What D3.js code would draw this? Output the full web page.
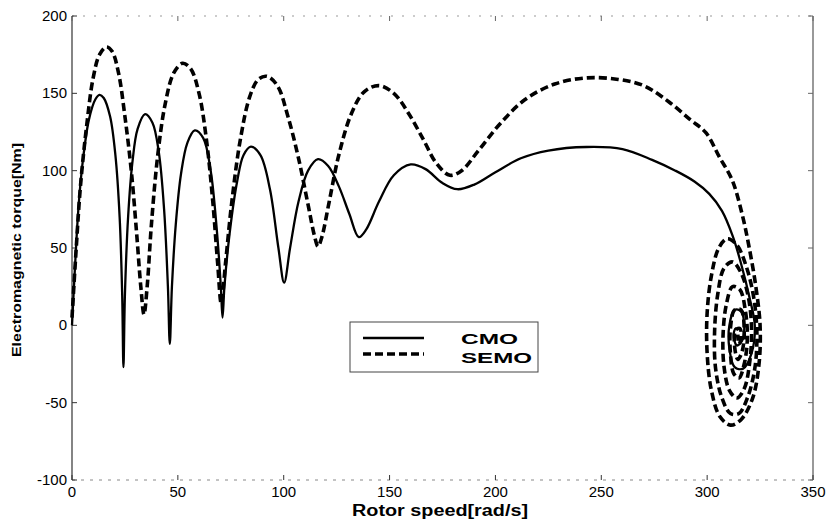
<!DOCTYPE html>
<html>
<head>
<meta charset="utf-8">
<script src="https://cdn.jsdelivr.net/npm/d3@7"></script>
<style>
  body { margin: 0; background: #fff; }
  text { font-family: "Liberation Sans", Arial, sans-serif; }
</style>
</head>
<body>
<svg id="chart" width="828" height="524"></svg>
<script>
/* tick labels */
var xTicks = [0, 50, 100, 150, 200, 250, 300, 350];
var yTicks = [-100, -50, 0, 50, 100, 150, 200];

/* CMO (solid) */
var cmoSpeed = [0, 1.5, 3, 5, 8, 11, 13, 15, 18, 20.5, 22.5, 23.7, 24.3, 25, 26.5, 28.5, 31, 34.5, 38, 41, 43.5, 45.3, 46.2, 47.2, 49, 51.5, 54.5, 58, 62, 65.5, 68.5, 70.3, 71.1, 72, 74.5, 78, 81, 84.5, 89, 93.5, 97.5, 100.2, 103, 107, 111.5, 116.2, 121, 126, 131, 135.5, 139, 145, 152, 160, 167, 175, 182, 190, 200, 212, 225, 243, 260, 274, 285, 294, 301, 307, 312, 316, 320, 322.5, 321, 317, 313, 310.5, 310.5, 313, 316, 317.5, 316.5, 314, 312.5, 313.5, 314.5];
var cmoTorque = [0, 40, 75, 105, 133, 146, 149, 147, 135, 110, 70, 20, -27, 20, 70, 105, 127, 136.5, 131, 112, 75, 25, -12, 25, 65, 98, 118, 126, 121, 100, 60, 25, 5, 25, 60, 93, 110, 115.5, 110, 88, 50, 27.6, 50, 80, 100, 107.4, 103, 90, 72, 57, 62, 80, 97, 104, 101, 92, 88, 91, 99, 108, 113, 115.3, 114, 107, 100, 93, 85, 74, 58, 40, 18, 0, -18, -28, -27, -15, 0, 10, 9, 0, -10, -13, -6, -2, -3];

/* SEMO (dashed) */
var semoSpeed = [0, 2, 4, 7, 10, 13, 16.3, 19, 22, 25, 28, 30.5, 32.5, 34, 35.5, 37.5, 40.5, 44, 48, 52.2, 56, 60, 63.5, 66.5, 68.8, 70.5, 72.5, 75.5, 79.5, 84, 88, 92, 97, 102, 107, 111.5, 114.5, 116.2, 118, 121.5, 126, 132, 138, 145, 152, 159, 166, 172, 178.5, 184, 192, 202, 214, 228, 243, 258, 270, 282, 292, 299.5, 305.7, 311.8, 316.5, 319.8,
  323, 325, 324.5, 321.5, 316, 311, 306, 302, 300, 300, 302, 305.5, 309.5, 314, 318.5, 322, 323.5, 322.5, 319, 315, 311, 307, 304, 303.5, 305, 308, 312, 316, 319.5, 321, 320, 317.5, 314, 310.5, 308, 307.5, 309, 312, 315.5, 318, 319, 317.5, 315, 312.5, 311, 311, 313, 316, 317.5, 316.5, 314.5, 313, 313.5, 315.5, 316, 315, 314.5];
var semoTorque = [5, 50, 90, 130, 160, 175, 180, 177, 163, 135, 100, 60, 25, 7, 25, 65, 110, 143, 163, 169.4, 166, 150, 120, 80, 40, 14, 40, 80, 120, 148, 159, 161, 155, 135, 108, 78, 58, 51, 57, 80, 110, 137, 151, 155, 150, 137, 120, 105, 97, 100, 113, 130, 146, 156, 160, 159, 155, 144.4, 133, 124.4, 109, 94, 72, 50.7,
  25, 0, -25, -47, -61, -64.5, -59, -42, -18, 8, 32, 50, 56, 52, 38, 18, -5, -28, -47, -57, -57, -47, -28, -5, 20, 37, 41, 34, 18, -3, -25, -41, -47, -42, -27, -7, 13, 25, 23, 10, -8, -25, -34, -31, -18, -2, 10, 10, -3, -17, -22, -14, -3, -2, -9, -12, -6];

var seriesNames = ['CMO', 'SEMO'];

var plot = { left: 72, right: 813, top: 16, bottom: 480 };

var svg = d3.select('#chart');

var x = d3.scaleLinear().domain([0, 350]).range([plot.left, plot.right]);
var y = d3.scaleLinear().domain([-100, 200]).range([plot.bottom, plot.top]);

function pairs(xs, ys) {
    var out = [];
    for (var i = 0; i < xs.length; i++) out.push([xs[i], ys[i]]);
    return out;
}

var line = d3.line()
    .x(function(d) { return x(d[0]); })
    .y(function(d) { return y(d[1]); })
    .curve(d3.curveCatmullRom.alpha(0.5));

// faint top / bottom frame (scanned look)
svg.append('line')
    .attr('x1', plot.left).attr('x2', plot.right)
    .attr('y1', plot.top).attr('y2', plot.top)
    .attr('stroke', '#999').attr('stroke-width', 1)
    .attr('stroke-dasharray', '2,9');
svg.append('line')
    .attr('x1', plot.left).attr('x2', plot.right)
    .attr('y1', plot.bottom).attr('y2', plot.bottom)
    .attr('stroke', '#888').attr('stroke-width', 1)
    .attr('stroke-dasharray', '3,6');
svg.append('line')
    .attr('x1', plot.left).attr('x2', plot.left)
    .attr('y1', plot.top).attr('y2', plot.bottom)
    .attr('stroke', '#333').attr('stroke-width', 1.2);
svg.append('line')
    .attr('x1', plot.right).attr('x2', plot.right)
    .attr('y1', plot.top).attr('y2', plot.bottom)
    .attr('stroke', '#555').attr('stroke-width', 1.2);

// ticks (inward, all sides)
var xAxis = svg.append('g').attr('class', 'x axis');
xTicks.forEach(function(t) {
    xAxis.append('line')
        .attr('x1', x(t)).attr('x2', x(t))
        .attr('y1', plot.bottom).attr('y2', plot.bottom - 5)
        .attr('stroke', '#333');
    xAxis.append('line')
        .attr('x1', x(t)).attr('x2', x(t))
        .attr('y1', plot.top).attr('y2', plot.top + 5)
        .attr('stroke', '#666');
    xAxis.append('text')
        .attr('x', x(t)).attr('y', plot.bottom + 17)
        .attr('text-anchor', 'middle')
        .style('font-size', '15px')
        .text(t);
});

var yAxis = svg.append('g').attr('class', 'y axis');
yTicks.forEach(function(t) {
    yAxis.append('line')
        .attr('x1', plot.left).attr('x2', plot.left + 5)
        .attr('y1', y(t)).attr('y2', y(t))
        .attr('stroke', '#333');
    yAxis.append('line')
        .attr('x1', plot.right).attr('x2', plot.right - 5)
        .attr('y1', y(t)).attr('y2', y(t))
        .attr('stroke', '#666');
    yAxis.append('text')
        .attr('x', plot.left - 5).attr('y', y(t) + 5)
        .attr('text-anchor', 'end')
        .style('font-size', '15px')
        .text(t);
});

// curves
svg.append('path')
    .datum(pairs(cmoSpeed, cmoTorque))
    .attr('d', line)
    .attr('fill', 'none')
    .attr('stroke', '#000')
    .attr('stroke-width', 2.3)
    .attr('stroke-linejoin', 'round');

svg.append('path')
    .datum(pairs(semoSpeed, semoTorque))
    .attr('d', line)
    .attr('fill', 'none')
    .attr('stroke', '#000')
    .attr('stroke-width', 3.6)
    .attr('stroke-dasharray', '8,4');

// axis labels
svg.append('text')
    .attr('x', 440).attr('y', 516)
    .attr('text-anchor', 'middle')
    .attr('textLength', 176).attr('lengthAdjust', 'spacingAndGlyphs')
    .style('font-size', '16px').style('font-weight', 'bold')
    .text('Rotor speed[rad/s]');

svg.append('text')
    .attr('transform', 'translate(21,250) rotate(-90)')
    .attr('text-anchor', 'middle')
    .attr('textLength', 214).attr('lengthAdjust', 'spacingAndGlyphs')
    .style('font-size', '13px').style('font-weight', 'bold')
    .text('Electromagnetic torque[Nm]');

// legend
var legend = svg.append('g').attr('transform', 'translate(350,322)');
legend.append('rect')
    .attr('width', 188).attr('height', 50)
    .attr('fill', '#fff')
    .attr('stroke', '#444').attr('stroke-width', 1);
legend.append('line')
    .attr('x1', 13).attr('x2', 74).attr('y1', 16).attr('y2', 16)
    .attr('stroke', '#000').attr('stroke-width', 2.3);
legend.append('line')
    .attr('x1', 13).attr('x2', 74).attr('y1', 32).attr('y2', 32)
    .attr('stroke', '#000').attr('stroke-width', 3.6)
    .attr('stroke-dasharray', '8,4');
var legendWidths = [57, 71];
seriesNames.forEach(function(name, i) {
    legend.append('text')
        .attr('x', 111).attr('y', 22 + i * 19)
        .attr('textLength', legendWidths[i]).attr('lengthAdjust', 'spacingAndGlyphs')
        .style('font-size', '15px').style('font-weight', 'bold')
        .text(name);
});
</script>
</body>
</html>
